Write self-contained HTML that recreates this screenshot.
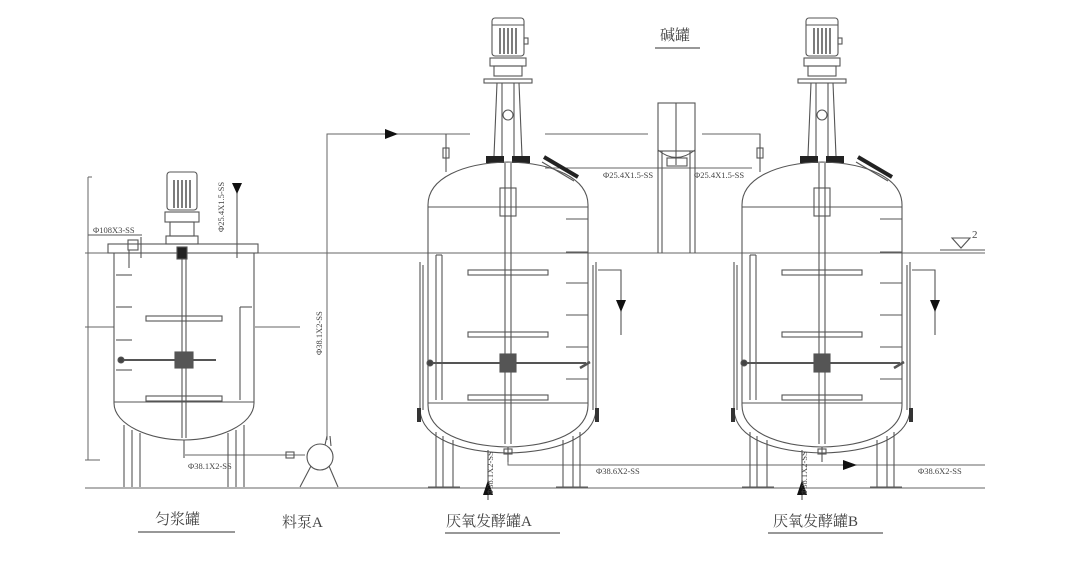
<!DOCTYPE html>
<html><head><meta charset="utf-8"><style>
html,body{margin:0;padding:0;background:#fff;}
svg{display:block;}
text{font-family:"Liberation Serif","Noto Serif CJK SC",serif;fill:#444;}
</style></head><body>
<svg width="1080" height="564" viewBox="0 0 1080 564" xmlns="http://www.w3.org/2000/svg">
<defs>
<g id="ferm" stroke="#555" stroke-width="1.1" fill="none">
  <rect x="-16" y="18" width="32" height="38" rx="3" fill="#fff"/>
  <line x1="-16" y1="25" x2="16" y2="25"/>
  <g stroke="#444" stroke-width="1.4"><line x1="-8" y1="28" x2="-8" y2="54"/><line x1="-4" y1="28" x2="-4" y2="54"/><line x1="0" y1="28" x2="0" y2="54"/><line x1="4" y1="28" x2="4" y2="54"/><line x1="8" y1="28" x2="8" y2="54"/></g>
  <rect x="16" y="38" width="4" height="6"/>
  <rect x="-18" y="58" width="36" height="8"/>
  <rect x="-14" y="66" width="28" height="10"/>
  <rect x="-24" y="79" width="48" height="4"/>
  <line x1="-11" y1="83" x2="-14" y2="156"/><line x1="11" y1="83" x2="14" y2="156"/>
  <line x1="-6" y1="83" x2="-6" y2="156"/><line x1="6" y1="83" x2="6" y2="156"/>
  <circle cx="0" cy="115" r="5"/>
  <rect x="-22" y="156" width="18" height="7" fill="#222" stroke="none"/>
  <rect x="4" y="156" width="18" height="7" fill="#222" stroke="none"/>
  <path d="M-80 205 C-80 178 -45 163 0 162 C45 163 80 178 80 205"/>
  <line x1="-80" y1="207" x2="80" y2="207"/>
  <line x1="36" y1="157" x2="70" y2="177" stroke="#222" stroke-width="4"/>
  <line x1="34" y1="162" x2="66" y2="181"/>
  <line x1="-80" y1="205" x2="-80" y2="405"/><line x1="80" y1="205" x2="80" y2="405"/>
  <line x1="-80" y1="403" x2="80" y2="403"/>
  <path d="M-80 405 C-80 432 -45 446 0 447 C45 446 80 432 80 405"/>
  <line x1="-88" y1="262" x2="-88" y2="412"/><line x1="88" y1="262" x2="88" y2="412"/>
  <line x1="-85" y1="265" x2="-85" y2="410"/><line x1="85" y1="265" x2="85" y2="410"/>
  <path d="M-88 410 C-86 440 -45 452 0 453 C45 452 86 440 88 410"/>
  <rect x="-91" y="408" width="4" height="14" fill="#333" stroke="none"/>
  <rect x="87" y="408" width="4" height="14" fill="#333" stroke="none"/>
  <line x1="-72" y1="255" x2="-72" y2="400"/><line x1="-66" y1="255" x2="-66" y2="400"/><line x1="-72" y1="255" x2="-66" y2="255"/>
  <line x1="-3" y1="163" x2="-3" y2="444"/><line x1="3" y1="163" x2="3" y2="444"/>
  <rect x="-8" y="188" width="16" height="28"/>
  <rect x="-40" y="270" width="80" height="5"/>
  <rect x="-40" y="332" width="80" height="5"/>
  <rect x="-40" y="395" width="80" height="5"/>
  <line x1="-78" y1="363" x2="78" y2="363" stroke-width="2"/>
  <rect x="-8" y="354" width="16" height="18" fill="#555"/>
  <circle cx="-78" cy="363" r="3" fill="#444"/>
  <line x1="72" y1="368" x2="82" y2="362" stroke-width="2.5"/>
  <g><line x1="58" y1="219" x2="80" y2="219"/><line x1="58" y1="252" x2="80" y2="252"/><line x1="58" y1="283" x2="80" y2="283"/><line x1="58" y1="315" x2="80" y2="315"/><line x1="58" y1="347" x2="80" y2="347"/><line x1="58" y1="379" x2="80" y2="379"/></g>
  <line x1="-72" y1="432" x2="-72" y2="487"/><line x1="-65" y1="436" x2="-65" y2="487"/><line x1="-55" y1="440" x2="-55" y2="487"/>
  <line x1="55" y1="440" x2="55" y2="487"/><line x1="65" y1="436" x2="65" y2="487"/><line x1="72" y1="432" x2="72" y2="487"/>
  <line x1="-80" y1="487" x2="-48" y2="487"/><line x1="48" y1="487" x2="80" y2="487"/>
  <polyline points="90,270 113,270 113,335"/>
  <path d="M108 300 L118 300 L113 312 Z" fill="#111" stroke="none"/>
  <line x1="-62" y1="134" x2="-62" y2="172"/>
  <rect x="-65" y="148" width="6" height="10"/>
  <line x1="0" y1="447" x2="0" y2="462"/>
  <rect x="-4" y="449" width="8" height="5"/>
  <line x1="-20" y1="450" x2="-20" y2="500"/>
  <path d="M-25 495 L-15 495 L-20 480 Z" fill="#111" stroke="none"/>
</g>
</defs>

<g stroke="#666" stroke-width="1" fill="none">
  <line x1="85" y1="253" x2="985" y2="253"/>
  <line x1="85" y1="488" x2="985" y2="488"/>
  <line x1="88" y1="177" x2="88" y2="460"/>
  <line x1="88" y1="177" x2="92" y2="177"/><line x1="85" y1="460" x2="100" y2="460"/>
  <line x1="85" y1="327" x2="114" y2="327"/><line x1="255" y1="327" x2="300" y2="327"/>
  <polyline points="327,440 327,134 470,134"/>
  <line x1="545" y1="134" x2="648" y2="134"/>
  <polyline points="702,134 760,134 760,172"/>
  <line x1="545" y1="168" x2="752" y2="168"/>
  <polyline points="508,458 508,465 985,465"/>
  <line x1="185" y1="455" x2="305" y2="455"/>
</g>
<path d="M385 129 L385 139 L398 134 Z" fill="#111"/>
<path d="M843 460 L843 470 L857 465 Z" fill="#111"/>

<g stroke="#555" stroke-width="1.1" fill="none">
  <rect x="108" y="244" width="150" height="9" fill="#fff"/>
  <rect x="167" y="172" width="30" height="38" rx="3" fill="#fff"/>
  <g stroke="#444" stroke-width="1.4"><line x1="174" y1="180" x2="174" y2="208"/><line x1="178" y1="180" x2="178" y2="208"/><line x1="182" y1="180" x2="182" y2="208"/><line x1="186" y1="180" x2="186" y2="208"/><line x1="190" y1="180" x2="190" y2="208"/></g>
  <rect x="165" y="212" width="34" height="10"/>
  <rect x="170" y="222" width="24" height="14"/>
  <rect x="166" y="236" width="32" height="8"/>
  <rect x="177" y="247" width="10" height="12" fill="#222"/>
  <line x1="114" y1="253" x2="114" y2="403"/><line x1="254" y1="253" x2="254" y2="403"/>
  <path d="M114 403 C114 425 150 440 184 440 C218 440 254 425 254 403"/>
  <line x1="114" y1="402" x2="254" y2="402"/>
  <line x1="182" y1="259" x2="182" y2="438"/><line x1="186" y1="259" x2="186" y2="438"/>
  <rect x="146" y="316" width="76" height="5"/>
  <rect x="146" y="396" width="76" height="5"/>
  <line x1="118" y1="360" x2="216" y2="360" stroke-width="2"/>
  <rect x="175" y="352" width="18" height="16" fill="#555"/>
  <circle cx="121" cy="360" r="3" fill="#444"/>
  <line x1="240" y1="307" x2="240" y2="400"/><line x1="240" y1="307" x2="252" y2="307"/>
  <line x1="116" y1="275" x2="132" y2="275"/><line x1="116" y1="307" x2="132" y2="307"/><line x1="116" y1="340" x2="132" y2="340"/><line x1="116" y1="370" x2="132" y2="370"/>
  <rect x="128" y="240" width="10" height="10"/>
  <line x1="129" y1="250" x2="129" y2="268"/><line x1="141" y1="237" x2="141" y2="258"/>
  <line x1="88" y1="235" x2="142" y2="235"/>
  <line x1="237" y1="183" x2="237" y2="258"/>
  <line x1="124" y1="425" x2="124" y2="487"/><line x1="132" y1="430" x2="132" y2="487"/><line x1="140" y1="433" x2="140" y2="487"/>
  <line x1="228" y1="433" x2="228" y2="487"/><line x1="236" y1="430" x2="236" y2="487"/><line x1="244" y1="425" x2="244" y2="487"/>
  <line x1="184" y1="440" x2="184" y2="458"/>
  <circle cx="320" cy="457" r="13" fill="#fff"/>
  <line x1="325" y1="445" x2="327" y2="436"/><line x1="331" y1="446" x2="330" y2="436"/>
  <line x1="311" y1="466" x2="300" y2="487"/><line x1="329" y1="466" x2="338" y2="487"/>
  <rect x="286" y="452" width="8" height="6"/>
  <rect x="658" y="103" width="37" height="48"/>
  <line x1="676" y1="103" x2="676" y2="165"/>
  <path d="M658 150 Q676 165 695 150"/>
  <line x1="658" y1="151" x2="658" y2="253"/><line x1="662" y1="151" x2="662" y2="253"/>
  <line x1="690" y1="151" x2="690" y2="253"/><line x1="695" y1="151" x2="695" y2="253"/>
  <rect x="667" y="158" width="20" height="8"/>
  <path d="M952 238 L970 238 L961 248 Z"/>
  <line x1="940" y1="250" x2="985" y2="250"/>
</g>
<path d="M232 183 L242 183 L237 194 Z" fill="#111"/>

<use href="#ferm" transform="translate(508,0)"/>
<use href="#ferm" transform="translate(822,0)"/>

<g font-size="8.5">
  <text x="93" y="233">Φ108X3-SS</text>
  <text x="603" y="178">Φ25.4X1.5-SS</text>
  <text x="694" y="178">Φ25.4X1.5-SS</text>
  <text x="188" y="469">Φ38.1X2-SS</text>
  <text x="596" y="474">Φ38.6X2-SS</text>
  <text x="918" y="474">Φ38.6X2-SS</text>
  <text transform="translate(224,232) rotate(-90)">Φ25.4X1.5-SS</text>
  <text transform="translate(322,355) rotate(-90)">Φ38.1X2-SS</text>
  <text transform="translate(493,495) rotate(-90)">Φ38.1X2-SS</text>
  <text transform="translate(807,495) rotate(-90)">Φ38.1X2-SS</text>
</g>
<text x="972" y="238" font-size="11">2</text>
<g font-size="15">
  <text x="155" y="524">匀浆罐</text>
  <text x="282" y="527">料泵A</text>
  <text x="446" y="526">厌氧发酵罐A</text>
  <text x="773" y="526">厌氧发酵罐B</text>
  <text x="660" y="40">碱罐</text>
</g>
<g stroke="#777" stroke-width="1.5">
  <line x1="138" y1="532" x2="235" y2="532"/>
  <line x1="445" y1="533" x2="560" y2="533"/>
  <line x1="768" y1="533" x2="883" y2="533"/>
  <line x1="655" y1="48" x2="700" y2="48"/>
</g>
</svg>
</body></html>
